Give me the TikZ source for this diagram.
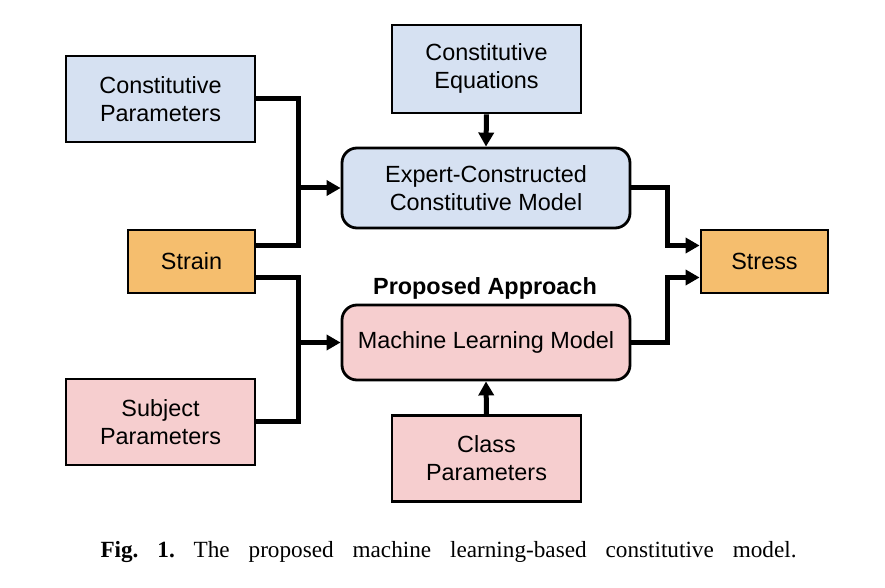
\documentclass[tikz,border=0pt]{standalone}
\usepackage{fontspec}
\setmainfont{Liberation Serif}
\setsansfont{Liberation Sans}
\usetikzlibrary{arrows.meta}
\definecolor{cblue}{RGB}{214,225,242}
\definecolor{corange}{RGB}{245,190,110}
\definecolor{cpink}{RGB}{246,206,207}
\tikzset{
  box/.style={draw=black, line width=1.4pt, align=center, inner sep=0pt,
    font=\sffamily\fontsize{11.7}{14}\selectfont},
  bluebox/.style={box, fill=cblue, minimum width=94.5pt, minimum height=43pt},
  pinkbox/.style={box, fill=cpink, minimum width=94.5pt, minimum height=43pt},
  orangebox/.style={box, fill=corange, minimum width=63.5pt, minimum height=31.5pt},
  roundbox/.style={box, rounded corners=7.5pt, minimum width=144pt},
  conn/.style={line width=2.5pt, draw=black},
  arr/.style={conn, -{Triangle[length=7pt,width=7.5pt]}},
}
\begin{document}
\begin{tikzpicture}[x=0.5pt,y=-0.5pt]
\useasboundingbox (0,0) rectangle (885,588);
\node[bluebox] (cp) at (160.5,99) {Constitutive\\Parameters};
\node[bluebox, minimum height=44pt] (ceq) at (486.5,69) {\raisebox{-3.1pt}[0pt][0pt]{\begin{tabular}{@{}c@{}}Constitutive\\Equations\end{tabular}}};
\node[roundbox, fill=cblue, minimum height=40pt] (expert) at (486,188) {Expert-Constructed\\Constitutive Model};
\node[orangebox] (strain) at (191.5,261.5) {Strain};
\node[orangebox] (stress) at (764.5,261.5) {Stress};
\node[font=\sffamily\bfseries\fontsize{11.7}{14}\selectfont] (pa) at (485,288.5) {Proposed Approach};
\node[roundbox, fill=cpink, minimum height=37.5pt] (ml) at (486,342.5) {Machine Learning Model};
\node[pinkbox] (subj) at (160.5,422) {Subject\\Parameters};
\node[pinkbox] (class) at (486.5,458.5) {Class\\Parameters};
\node[anchor=base] (cap) at (448.5,558) {\fontsize{11.6}{13}\selectfont\frenchspacing\makebox[348pt][s]{\textbf{Fig. 1.} The proposed machine learning-based constitutive model.}};

\coordinate (ja) at (298,188);
\coordinate (jb) at (298,342.5);
\coordinate (jc) at (667,188);
\coordinate (jd) at (667,342.5);

\draw[conn] (cp.east) -| (ja) |- ([yshift=8pt]strain.east);
\draw[arr] (ja) -- (expert.west);
\draw[conn] ([yshift=-8pt]strain.east) -| (jb) |- (subj.east);
\draw[arr] (jb) -- (ml.west);
\draw[arr] (expert.east) -| (jc) |- ([yshift=8pt]stress.west);
\draw[arr] (ml.east) -| (jd) |- ([yshift=-8pt]stress.west);
\draw[arr] (ceq.south) -- (expert.north);
\draw[arr] (class.north) -- (ml.south);
\end{tikzpicture}
\end{document}
